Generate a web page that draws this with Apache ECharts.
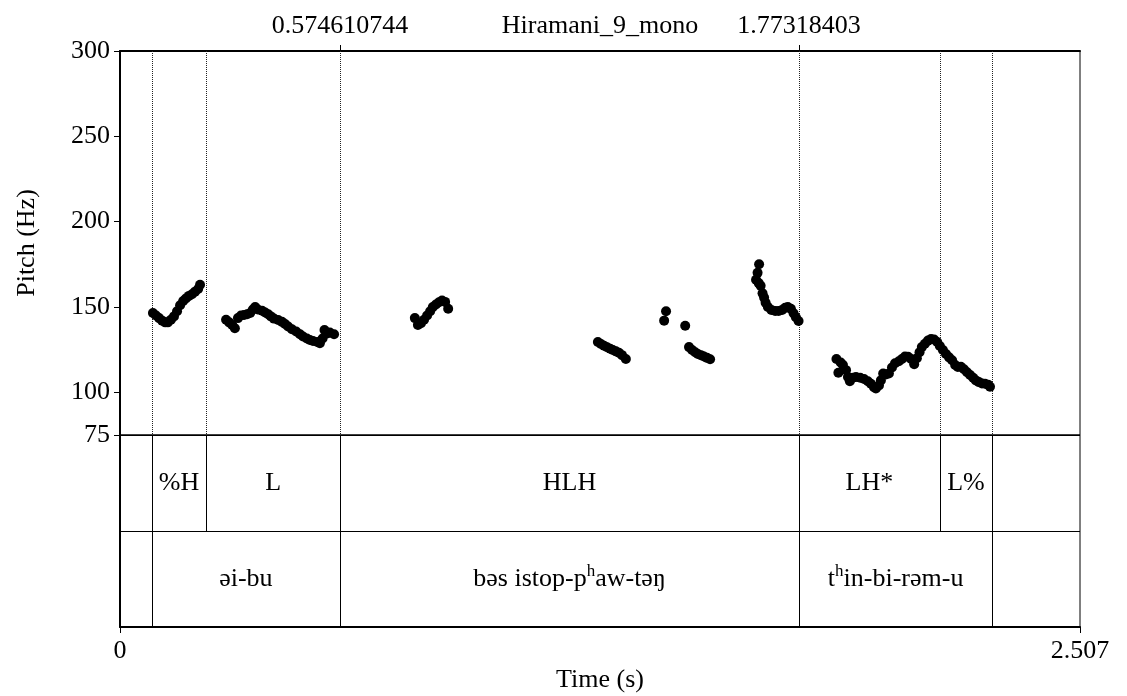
<!DOCTYPE html>
<html>
<head>
<meta charset="utf-8">
<script src="https://cdn.jsdelivr.net/npm/echarts@6/dist/echarts.min.js"></script>
<style>
  html, body { margin: 0; padding: 0; background: #fff; }
  #chart { width: 1127px; height: 696px; }
</style>
</head>
<body>
<div id="chart"></div>
<script>
// ---- axis ranges and tick labels ----
const TIME_MAX = 2.507;
const PITCH_MIN = 75;
const PITCH_MAX = 300;
const pitchTicks = [75, 100, 150, 200, 250, 300];
const timeTicks = [0, 2.507];
const timeTickLabels = ['0', '2.507'];
const soundName = 'Hiramani_9_mono';
const selectionTimes = [0.574610744, 1.77318403];
const selectionLabels = ['0.574610744', '1.77318403'];

// ---- TextGrid tiers: interval boundaries (s) and labels ----
const toneBounds = [0.0828, 0.2254, 0.574610744, 1.77318403, 2.1406, 2.2780];
const toneLabels = ['%H', 'L', 'HLH', 'LH*', 'L%'];
const wordBounds = [0.0828, 0.574610744, 1.77318403, 2.2780];
const wordLabels = ['əi-bu', 'bəs istop-pʰaw-təŋ', 'tʰin-bi-rəm-u'];

// ---- F0 track, voiced stretches: [time (s), pitch (Hz)] ----
const pitchA = [
  [0.086, 146.5], [0.094, 145], [0.102, 143.5], [0.110, 142], [0.118, 141], [0.125, 141],
  [0.133, 142.5], [0.141, 144.5], [0.149, 147.5], [0.157, 151], [0.165, 153.5], [0.172, 155],
  [0.180, 156.5], [0.188, 157.5], [0.196, 159], [0.204, 160.5], [0.209, 163]
];
const pitchB = [
  [0.277, 142.5], [0.285, 141], [0.293, 139.5], [0.300, 137.5], [0.308, 143.5], [0.316, 145],
  [0.324, 145.3], [0.332, 145.8], [0.340, 146.5], [0.347, 148.5], [0.353, 150], [0.360, 148.5],
  [0.371, 147.8], [0.379, 146.8], [0.387, 145.8], [0.394, 144.5], [0.402, 143.2], [0.413, 142.4],
  [0.423, 141.3], [0.431, 140], [0.439, 138.6], [0.449, 137], [0.460, 135.6], [0.470, 134],
  [0.478, 132.7], [0.488, 131.5], [0.496, 130.7], [0.504, 130.1], [0.515, 129.5], [0.522, 128.8],
  [0.529, 131.5], [0.534, 136.5], [0.541, 134.5], [0.548, 135], [0.559, 134]
];
const pitchC = [
  [0.770, 143.5], [0.778, 139.5], [0.786, 140.5], [0.794, 142.5], [0.802, 145], [0.810, 147.5],
  [0.817, 150], [0.825, 151.5], [0.833, 152.8], [0.841, 153.8], [0.849, 153], [0.857, 149]
];
const pitchD = [
  [1.248, 129.5], [1.256, 128.3], [1.264, 127.3], [1.272, 126.4], [1.280, 125.5], [1.287, 124.8],
  [1.295, 124], [1.303, 123.2], [1.311, 121.8], [1.321, 119.5]
];
const pitchE = [[1.421, 142], [1.426, 147.5], [1.476, 139]];
const pitchF = [
  [1.486, 126.5], [1.494, 124.8], [1.502, 123.5], [1.509, 122.5], [1.517, 121.8], [1.525, 121],
  [1.533, 120.2], [1.541, 119.4]
];
const pitchG = [
  [1.661, 166], [1.665, 170], [1.668, 164], [1.669, 175], [1.673, 162.5], [1.678, 158],
  [1.682, 155.5], [1.686, 152.5], [1.692, 150], [1.701, 148.3], [1.711, 147.7], [1.720, 147.7],
  [1.729, 148.3], [1.737, 149.5], [1.744, 150], [1.752, 149], [1.759, 146.3], [1.765, 144],
  [1.772, 141.8]
];
const pitchH = [
  [1.871, 119.5], [1.876, 111.5], [1.882, 117.5], [1.888, 116], [1.896, 113], [1.901, 109],
  [1.906, 106.5], [1.914, 108.5], [1.922, 109], [1.933, 108.5], [1.943, 107.8], [1.953, 106.5],
  [1.961, 105], [1.969, 103], [1.974, 102.2], [1.982, 104], [1.987, 107], [1.993, 111],
  [2.000, 110.5], [2.008, 111], [2.016, 114.5], [2.024, 117], [2.034, 118.2], [2.042, 119.5],
  [2.050, 121], [2.058, 120.8], [2.066, 119.5], [2.074, 116.5], [2.081, 120], [2.088, 123.5],
  [2.094, 126.5], [2.102, 128.5], [2.110, 130.3], [2.118, 131.2], [2.126, 131], [2.134, 129.5],
  [2.141, 127.2], [2.149, 124.8], [2.157, 122.5], [2.165, 120.5], [2.173, 118.8], [2.181, 116],
  [2.188, 114.8], [2.196, 115], [2.204, 113.5], [2.212, 111.8], [2.220, 110.2], [2.228, 108.5],
  [2.235, 107], [2.243, 106], [2.251, 105.2], [2.259, 105], [2.267, 104.5], [2.272, 103.3]
];

// ---- styling ----
const FONT = '"Liberation Serif", "Times New Roman", Times, serif';
const FS = 26;
const textStyle = { fontFamily: FONT, fontSize: FS, color: '#000' };

const pitchPoints = [].concat(pitchA, pitchB, pitchC, pitchD, pitchE, pitchF, pitchG, pitchH);

function intervals(bounds, labels, row) {
  return labels.map((lab, i) => ({ value: [bounds[i], bounds[i + 1], row], label: lab }));
}
// row 1 = tone tier (upper), row 0 = word tier (lower)
const tierData = intervals(toneBounds, toneLabels, 1).concat(intervals(wordBounds, wordLabels, 0));

// all boundaries, drawn as dotted lines through the pitch panel
const boundaryTimes = Array.from(new Set(toneBounds.concat(wordBounds))).sort((a, b) => a - b);

// aspirated consonants: modifier h drawn as a raised small h
function toRich(s) {
  return '{n|' + s.replace(/ʰ/g, '}{s|h}{n|') + '}';
}
const RICH = {
  n: { fontFamily: FONT, fontSize: FS, lineHeight: 32, fill: '#000' },
  s: { fontFamily: FONT, fontSize: 17, lineHeight: 17, verticalAlign: 'top', fill: '#000' }
};

function nearestLabel(v, values, labels) {
  let best = 0;
  values.forEach((x, i) => { if (Math.abs(x - v) < Math.abs(values[best] - v)) best = i; });
  return labels[best];
}

const crisp = x => Math.round(x) + 0.5;

const chart = echarts.init(document.getElementById('chart'), null, { renderer: 'canvas' });

chart.setOption({
  animation: false,
  backgroundColor: '#fff',
  grid: [
    { left: 120, right: 47, top: 51, height: 384, show: true, borderColor: '#000', borderWidth: 1,
      backgroundColor: 'transparent', containLabel: false, outerBoundsMode: 'none' },
    { left: 120, right: 47, top: 435, height: 192, show: true, borderColor: '#000', borderWidth: 1,
      backgroundColor: 'transparent', containLabel: false, outerBoundsMode: 'none' }
  ],
  xAxis: [
    {
      gridIndex: 0, type: 'value', min: 0, max: TIME_MAX, position: 'top',
      axisLine: { show: true, lineStyle: { color: '#000', width: 2 } },
      axisTick: { show: true, customValues: selectionTimes, length: 6, lineStyle: { color: '#000', width: 1 } },
      axisLabel: {
        show: true, customValues: selectionTimes, margin: 12, ...textStyle,
        formatter: v => nearestLabel(v, selectionTimes, selectionLabels)
      },
      splitLine: { show: false },
      name: soundName, nameLocation: 'middle', nameGap: 12, nameMoveOverlap: false,
      nameTextStyle: textStyle
    },
    {
      gridIndex: 1, type: 'value', min: 0, max: TIME_MAX, position: 'bottom',
      axisLine: { show: true, lineStyle: { color: '#000', width: 2 } },
      axisTick: { show: true, customValues: timeTicks, length: 6, lineStyle: { color: '#000', width: 1 } },
      axisLabel: {
        show: true, customValues: timeTicks, margin: 11, ...textStyle,
        showMinLabel: true, showMaxLabel: true,
        formatter: v => nearestLabel(v, timeTicks, timeTickLabels)
      },
      splitLine: { show: false },
      name: 'Time (s)', nameLocation: 'middle', nameGap: 40, nameMoveOverlap: false,
      nameTextStyle: textStyle
    }
  ],
  yAxis: [
    {
      gridIndex: 0, type: 'value', min: PITCH_MIN, max: PITCH_MAX,
      axisLine: { show: true, lineStyle: { color: '#000', width: 2 } },
      axisTick: { show: true, customValues: pitchTicks, length: 6, lineStyle: { color: '#000', width: 1 } },
      axisLabel: { show: true, customValues: pitchTicks, margin: 10, ...textStyle,
        showMinLabel: true, showMaxLabel: true },
      splitLine: { show: false },
      name: 'Pitch (Hz)', nameLocation: 'middle', nameGap: 80, nameRotate: 90, nameMoveOverlap: false,
      nameTextStyle: textStyle
    },
    {
      gridIndex: 1, type: 'value', min: 0, max: 2, interval: 1,
      axisLine: { show: true, lineStyle: { color: '#000', width: 2 } },
      axisTick: { show: false },
      axisLabel: { show: false },
      splitLine: { show: true, lineStyle: { color: '#000', width: 1 } }
    }
  ],
  series: [
    {
      // dotted interval boundaries across the pitch panel
      type: 'custom', xAxisIndex: 0, yAxisIndex: 0, silent: true, z: 1,
      data: boundaryTimes.map(t => [t]),
      encode: { x: 0 },
      renderItem: (params, api) => {
        const t = api.value(0);
        const top = api.coord([t, PITCH_MAX]);
        const bot = api.coord([t, PITCH_MIN]);
        const x = crisp(top[0]);
        return {
          type: 'line',
          shape: { x1: x, y1: top[1], x2: x, y2: bot[1] },
          style: { stroke: '#222', lineWidth: 1, lineDash: [1, 1] }
        };
      }
    },
    {
      // TextGrid intervals with their labels
      type: 'custom', xAxisIndex: 1, yAxisIndex: 1, silent: true, z: 2,
      data: tierData,
      encode: { x: [0, 1], y: 2 },
      renderItem: (params, api) => {
        const s = api.value(0), e = api.value(1), row = api.value(2);
        const tl = api.coord([s, row + 1]);
        const br = api.coord([e, row]);
        const xl = crisp(tl[0]), xr = crisp(br[0]);
        const d = tierData[params.dataIndex];
        return {
          type: 'group',
          children: [
            { type: 'line', shape: { x1: xl, y1: tl[1], x2: xl, y2: br[1] }, style: { stroke: '#000', lineWidth: 1 } },
            { type: 'line', shape: { x1: xr, y1: tl[1], x2: xr, y2: br[1] }, style: { stroke: '#000', lineWidth: 1 } },
            {
              type: 'text',
              x: (tl[0] + br[0]) / 2, y: (tl[1] + br[1]) / 2,
              style: {
                text: toRich(d.label), align: 'center', verticalAlign: 'middle',
                rich: RICH, fill: '#000', fontFamily: FONT, fontSize: FS
              }
            }
          ]
        };
      }
    },
    {
      // F0 points
      type: 'scatter', xAxisIndex: 0, yAxisIndex: 0, z: 3,
      symbol: 'circle', symbolSize: 10,
      itemStyle: { color: '#000', opacity: 1 },
      data: pitchPoints
    }
  ]
});
</script>
</body>
</html>
